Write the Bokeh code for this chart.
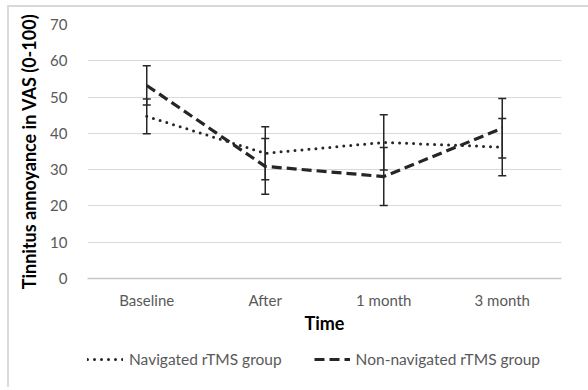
from bokeh.plotting import figure
from bokeh.layouts import column
from bokeh.models import (ColumnDataSource, Whisker, TeeHead, Legend, LegendItem,
                          FactorRange, Range1d, InlineStyleSheet)
from bokeh.embed import file_html
from bokeh.resources import INLINE

# Time points and group means / error bar half-widths (VAS 0-100)
times = ["Baseline", "After", "1 month", "3 month"]
nav_mean = [44.7, 34.5, 37.5, 36.2]
nav_err = [4.8, 7.3, 7.6, 7.9]
nonnav_mean = [53.2, 30.9, 28.1, 41.4]
nonnav_err = [5.4, 7.7, 8.0, 8.2]
y_ticks = [0, 10, 20, 30, 40, 50, 60, 70]
series_labels = ["Navigated rTMS group", "Non-navigated rTMS group"]

FONT = "Lato"
GREY_TXT = "#595959"
GRID = "#d9d9d9"
INK = "#262626"
NAV_STYLE = dict(line_color=INK, line_width=3, line_dash="0 7", line_cap="round")
NON_STYLE = dict(line_color=INK, line_width=3.2, line_dash="10 5")

chart_border = InlineStyleSheet(css=":host { border-left: 2px solid #d9d9d9; "
                                    "border-top: 2px solid #d9d9d9; }")

p = figure(width=579, height=335, output_backend="svg", toolbar_location=None,
           x_range=FactorRange(factors=times, range_padding=0),
           y_range=Range1d(0, 70),
           min_border_left=78, min_border_right=27, min_border_top=17,
           min_border_bottom=64)
p.outline_line_color = None

# grid
p.xgrid.grid_line_color = None
p.ygrid.grid_line_color = GRID
p.ygrid.grid_line_width = 1.2
p.yaxis.ticker = y_ticks

# axes
for ax in (p.xaxis, p.yaxis):
    ax.major_tick_line_color = None
    ax.minor_tick_line_color = None
    ax.major_label_text_font = FONT
    ax.major_label_text_color = GREY_TXT
    ax.major_label_text_font_size = "15px"
    ax.axis_label_text_font = FONT
    ax.axis_label_text_font_style = "bold"
    ax.axis_label_text_color = "black"
    ax.axis_label_text_font_size = "18px"
p.yaxis.axis_line_color = None
p.xaxis.axis_line_color = "#c8c8c8"
p.xaxis.axis_line_width = 1.5
p.yaxis.axis_label = "Tinnitus annoyance in VAS (0-100)"
p.xaxis.axis_label = "Time"
p.yaxis.major_label_standoff = 14
p.yaxis.axis_label_standoff = 7
p.xaxis.major_label_standoff = 6
p.xaxis.axis_label_standoff = 0

src = ColumnDataSource(dict(
    t=times,
    nav=nav_mean,
    nav_lo=[m - e for m, e in zip(nav_mean, nav_err)],
    nav_hi=[m + e for m, e in zip(nav_mean, nav_err)],
    non=nonnav_mean,
    non_lo=[m - e for m, e in zip(nonnav_mean, nonnav_err)],
    non_hi=[m + e for m, e in zip(nonnav_mean, nonnav_err)],
))

p.line("t", "nav", source=src, **NAV_STYLE)
p.line("t", "non", source=src, **NON_STYLE)

for lo, hi in (("nav_lo", "nav_hi"), ("non_lo", "non_hi")):
    w = Whisker(source=src, base="t", lower=lo, upper=hi,
                line_color=INK, line_width=1.5,
                upper_head=TeeHead(size=8, line_color=INK, line_width=1.5),
                lower_head=TeeHead(size=8, line_color=INK, line_width=1.5))
    p.add_layout(w)

# legend strip under the chart (its frame is aligned with the chart frame);
# key lines lie outside its visible range
lg = figure(width=579, height=45, output_backend="svg", toolbar_location=None,
            x_range=(0, 1), y_range=(0, 1), min_border=0,
            x_axis_location=None, y_axis_location=None)
lg.grid.visible = False
lg.outline_line_color = None
k_nav = lg.line([5, 6], [5, 6], **NAV_STYLE)
k_non = lg.line([5, 6], [5, 6], **NON_STYLE)
legend = Legend(items=[LegendItem(label=series_labels[0], renderers=[k_nav]),
                       LegendItem(label=series_labels[1], renderers=[k_non])],
                orientation="horizontal", location=(0, 18),
                label_text_font=FONT, label_text_color=GREY_TXT,
                label_text_font_size="15.5px", glyph_width=36,
                label_standoff=6, spacing=32, border_line_color=None,
                background_fill_alpha=0, padding=0, margin=0)
lg.add_layout(legend)

layout = column(p, lg, spacing=0, margin=(5, 0, 0, 7), stylesheets=[chart_border])

open("out.html", "w").write(file_html(layout, INLINE))
